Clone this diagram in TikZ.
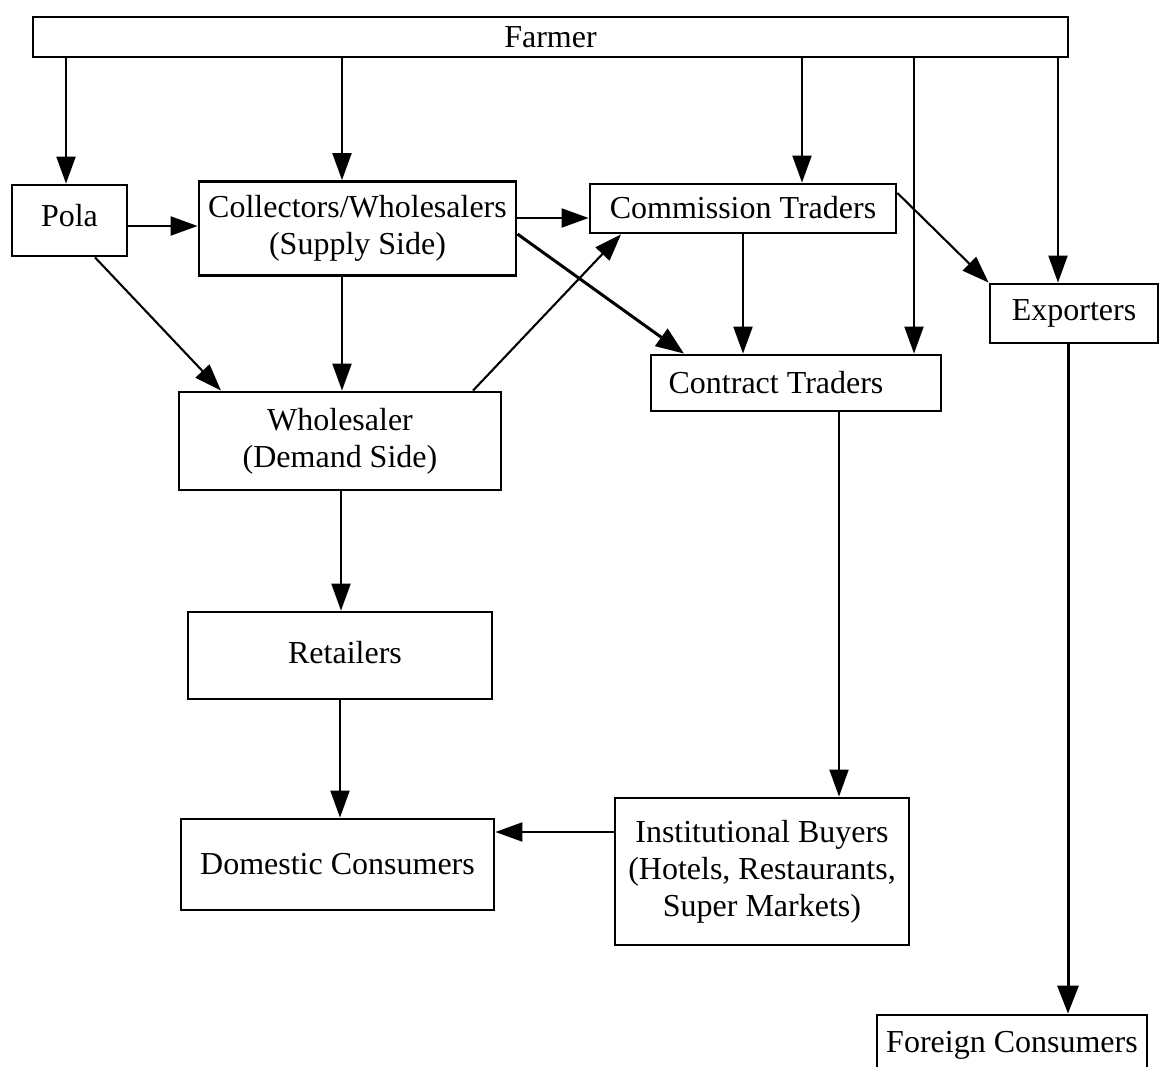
\documentclass[tikz,border=0pt]{standalone}
\usepackage{fontspec}
\setmainfont{Liberation Serif}
\usetikzlibrary{arrows.meta}
\begin{document}
\begin{tikzpicture}[x=1pt,y=-1pt,
  box/.style={draw, line width=2.8pt, inner sep=0pt, align=center,
    font=\fontsize{32}{37}\selectfont},
  arr/.style={line width=2.1pt, -{Triangle[length=27pt,width=19pt]}},
  tarr/.style={line width=3pt, -{Triangle[length=28pt,width=21pt]}}]
\useasboundingbox (0,0) rectangle (1162,1066);
\clip (0,0) rectangle (1162,1066);
% boxes (center, width, height)
\node[box, minimum width=1035pt, minimum height=40pt] (farmer) at (550.5,37) {Farmer};
\node[box, minimum width=115pt, minimum height=71pt] (pola) at (69.5,220.5) {\raisebox{10pt}{Pola}};
\node[box, minimum width=317pt, minimum height=94pt] (coll) at (357.5,228.5) {Collectors/Wholesalers\\(Supply Side)};
\node[box, minimum width=306pt, minimum height=49pt] (comm) at (743,208.5) {\raisebox{3pt}{Commission Traders}};
\node[box, minimum width=168pt, minimum height=59pt] (exp) at (1074,313.5) {Exporters};
\node[box, minimum width=290pt, minimum height=56pt] (contr) at (796,383) {\hspace*{-40pt}\raisebox{2pt}{Contract Traders}};
\node[box, minimum width=322pt, minimum height=98pt] (whd) at (340,441) {Wholesaler\\(Demand Side)};
\node[box, minimum width=304pt, minimum height=87pt] (ret) at (340,655.5) {\hspace*{10pt}\raisebox{6pt}{Retailers}};
\node[box, minimum width=313pt, minimum height=91pt] (dom) at (337.5,864.5) {Domestic Consumers};
\node[box, minimum width=294pt, minimum height=147pt] (inst) at (762,871.5) {Institutional Buyers\\(Hotels, Restaurants,\\Super Markets)};
\node[box, minimum width=270pt, minimum height=66pt] (foreign) at (1012,1048) {\raisebox{12pt}{Foreign Consumers}};
% farmer arrows
\draw[arr] (farmer.south -| 66,0) -- (pola.north -| 66,0);
\draw[arr] (farmer.south -| 342,0) -- (coll.north -| 342,0);
\draw[arr] (farmer.south -| 802,0) -- (comm.north -| 802,0);
\draw[arr] (farmer.south -| 914,0) -- (contr.north -| 914,0);
\draw[arr] (farmer.south -| 1058,0) -- (exp.north -| 1058,0);
% pola
\draw[arr] (pola.east |- 0,226) -- (coll.west |- 0,226);
\draw[arr] (pola.south -| 95,0) -- (whd.north -| 221,0);
% collectors
\draw[arr] (coll.east |- 0,218) -- (comm.west |- 0,218);
\draw[tarr] (coll.east |- 0,234) -- (contr.north -| 684,0);
\draw[arr] (coll.south -| 342,0) -- (whd.north -| 342,0);
% wholesaler demand
\draw[arr] (whd.north -| 473,0) -- (comm.south -| 621,0);
\draw[arr] (whd.south -| 341,0) -- (ret.north -| 341,0);
% commission
\draw[arr] (comm.south -| 743,0) -- (contr.north -| 743,0);
\draw[arr] (comm.east |- 0,193) -- (exp.north west);
% contract, exporters
\draw[arr] (contr.south -| 839,0) -- (inst.north -| 839,0);
\draw[tarr] (exp.south -| 1068,0) -- (foreign.north -| 1068,0);
% retailers, institutional
\draw[arr] (ret.south -| 340,0) -- (dom.north -| 340,0);
\draw[arr] (inst.west |- 0,832) -- (dom.east |- 0,832);
\end{tikzpicture}
\end{document}
